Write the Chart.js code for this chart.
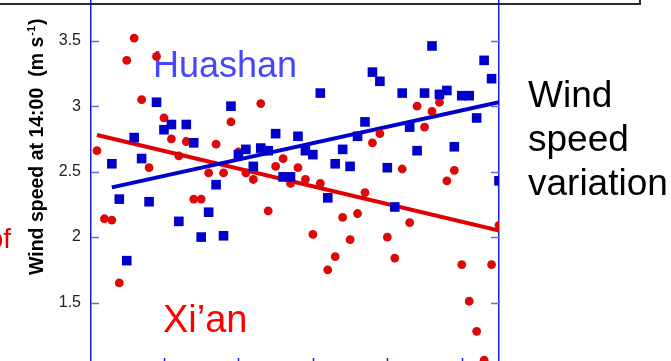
<!DOCTYPE html>
<html>
<head>
<meta charset="utf-8">
<script src="https://cdn.jsdelivr.net/npm/chart.js@4"></script>
<style>
  html, body { margin: 0; padding: 0; background: #fff; overflow: hidden; }
</style>
</head>
<body>
<canvas id="windchart" width="671" height="370"></canvas>
<script>
// data
const xianYears = [1951, 1952, 1953, 1954, 1955, 1956, 1957, 1958, 1959, 1960,
  1961, 1962, 1963, 1964, 1965, 1966, 1967, 1968, 1969, 1970,
  1971, 1972, 1973, 1974, 1975, 1976, 1977, 1978, 1979, 1980,
  1981, 1982, 1983, 1984, 1985, 1986, 1987, 1988, 1989, 1990,
  1991, 1992, 1993, 1994, 1995, 1996, 1997, 1998, 1999, 2000,
  2001, 2002, 2003, 2004, 2005];
const xianSpeed = [2.66, 2.14, 2.13, 1.65, 3.35, 3.52, 3.05, 2.53, 3.38, 2.91,
  2.75, 2.62, 2.73, 2.29, 2.29, 2.49, 2.71, 2.49, 2.88, 2.65,
  2.49, 2.44, 3.02, 2.20, 2.54, 2.60, 2.41, 2.53, 2.44, 2.02,
  2.41, 1.75, 1.85, 2.15, 1.98, 2.18, 2.34, 2.72, 2.79, 2.00,
  1.84, 2.52, 2.11, 3.00, 2.84, 2.96, 3.03, 2.43, 2.51, 1.79,
  1.51, 1.28, 1.06, 1.79, 2.09];

const huashanYears = [1953, 1954, 1955, 1956, 1957, 1958, 1959, 1960,
  1961, 1962, 1963, 1964, 1965, 1966, 1967, 1968, 1969, 1970,
  1971, 1972, 1973, 1974, 1975, 1976, 1977, 1978, 1979, 1980,
  1981, 1982, 1983, 1984, 1985, 1986, 1987, 1988, 1989, 1990,
  1991, 1992, 1993, 1994, 1995, 1996, 1997, 1998, 1999, 2000,
  2001, 2002, 2003, 2004, 2005];
const huashanSpeed = [2.56, 2.29, 1.82, 2.76, 2.60, 2.27, 3.03, 2.82,
  2.86, 2.12, 2.86, 2.72, 2.00, 2.19, 2.40, 2.01, 3.00, 2.63,
  2.67, 2.54, 2.68, 2.66, 2.79, 2.46, 2.46, 2.77, 2.66, 2.63,
  3.10, 2.30, 2.56, 2.67, 2.54, 2.77, 2.88, 3.26, 3.19, 2.53,
  2.23, 3.10, 2.84, 2.66, 3.10, 3.46, 3.09, 3.12, 2.69, 3.08,
  3.08, 2.91, 3.35, 3.21, 2.43];

// linear trend end points
const xianTrendYears = [1951, 2005];
const xianTrend = [2.78, 2.05];
const huashanTrendYears = [1953, 2005];
const huashanTrend = [2.38, 3.03];

const xTickYears = [1960, 1970, 1980, 1990, 2000];

const FONT = '"Liberation Sans", Arial, sans-serif';
const AXIS_BLUE = '#1c1cdc';

function pairs(xs, ys) {
  return xs.map((x, i) => ({ x: x, y: ys[i] }));
}

// no label overhang padding, the plot runs off the slide crop
function fixWidth(w) {
  return s => {
    s.width = w;
    s.paddingTop = 0;
    s.paddingBottom = 0;
    s.paddingLeft = 0;
    s.paddingRight = 0;
  };
}

// inward tick marks + frame line
const tickMarks = {
  id: 'tickMarks',
  afterDraw(chart) {
    const ctx = chart.ctx;
    const a = chart.chartArea;
    const yS = chart.scales.y;
    const xS = chart.scales.x;
    ctx.save();
    ctx.strokeStyle = '#6868ee';
    ctx.lineWidth = 1.5;
    yS.ticks.forEach(t => {
      const py = Math.round(yS.getPixelForValue(t.value)) + 0.5;
      ctx.beginPath();
      ctx.moveTo(a.left, py); ctx.lineTo(a.left + 8, py);
      ctx.moveTo(a.right, py); ctx.lineTo(a.right - 8, py);
      ctx.stroke();
    });
    ctx.strokeStyle = AXIS_BLUE;
    xTickYears.forEach(v => {
      const px = Math.round(xS.getPixelForValue(v)) + 0.5;
      ctx.beginPath();
      ctx.moveTo(px, a.bottom); ctx.lineTo(px, a.bottom - 10);
      ctx.stroke();
    });
    // box edge at the top of the slide
    ctx.strokeStyle = '#2a2a2a';
    ctx.lineWidth = 2;
    ctx.beginPath();
    ctx.moveTo(0, 4); ctx.lineTo(640, 4); ctx.lineTo(640, 0);
    ctx.stroke();
    ctx.restore();
  }
};

const labels = {
  id: 'labels',
  beforeDatasetsDraw(chart) {
    const ctx = chart.ctx;
    ctx.save();
    ctx.textBaseline = 'alphabetic';
    ctx.textAlign = 'left';
    ctx.fillStyle = '#4646ff';
    ctx.font = '36px ' + FONT;
    ctx.fillText('Huashan', 153, 77);
    ctx.fillStyle = '#ff0000';
    ctx.font = '38px ' + FONT;
    ctx.fillText('Xi\u2019an', 163, 332);
    ctx.restore();
  },
  afterDraw(chart) {
    const ctx = chart.ctx;
    ctx.save();
    ctx.textBaseline = 'alphabetic';
    ctx.textAlign = 'left';
    ctx.fillStyle = '#000';
    ctx.font = '37px ' + FONT;
    ctx.fillText('Wind', 528, 107);
    ctx.fillText('speed', 528, 151);
    ctx.fillText('variation', 528, 195);

    ctx.fillStyle = '#e00000';
    ctx.font = '28px ' + FONT;
    ctx.textAlign = 'right';
    ctx.fillText('of', 11, 248);

    // rotated y axis title with superscript
    ctx.translate(43, 275);
    ctx.rotate(-Math.PI / 2);
    ctx.textAlign = 'left';
    ctx.fillStyle = '#000';
    ctx.font = 'bold 19.5px ' + FONT;
    const main = 'Wind speed at 14:00  (m s';
    ctx.fillText(main, 0, 0);
    let w = ctx.measureText(main).width;
    ctx.font = 'bold 11px ' + FONT;
    ctx.fillText('-1', w + 1, -8);
    w += ctx.measureText('-1').width + 1;
    ctx.font = 'bold 19.5px ' + FONT;
    ctx.fillText(')', w + 1, 0);
    ctx.restore();
  }
};

const ctx = document.getElementById('windchart').getContext('2d');

const myChart = new Chart(ctx, {
  type: 'scatter',
  data: {
    datasets: [
      {
        label: 'Huashan',
        data: pairs(huashanYears, huashanSpeed),
        pointStyle: 'rect',
        pointRadius: 6.8,
        pointBorderWidth: 0,
        backgroundColor: '#0000cc',
        order: 1
      },
      {
        label: 'Xi\u2019an',
        data: pairs(xianYears, xianSpeed),
        pointStyle: 'circle',
        pointRadius: 4.4,
        pointBorderWidth: 0,
        backgroundColor: '#dd0808',
        order: 2
      },
      {
        label: 'Huashan trend',
        data: pairs(huashanTrendYears, huashanTrend),
        showLine: true,
        pointRadius: 0,
        borderColor: '#0000cc',
        borderWidth: 4,
        order: 3
      },
      {
        label: 'Xi\u2019an trend',
        data: pairs(xianTrendYears, xianTrend),
        showLine: true,
        pointRadius: 0,
        borderColor: '#e00000',
        borderWidth: 4,
        order: 4
      }
    ]
  },
  options: {
    responsive: false,
    animation: false,
    layout: { autoPadding: false, padding: { top: 0, bottom: 2, left: 0, right: 0 } },
    plugins: { legend: { display: false }, tooltip: { enabled: false } },
    scales: {
      x: {
        type: 'linear',
        min: 1950.2,
        max: 2005,
        display: false
      },
      y: {
        position: 'left',
        min: 1.0,
        max: 3.811,
        afterFit: fixWidth(91),
        grid: { drawOnChartArea: false, drawTicks: false },
        border: { color: AXIS_BLUE, width: 1.5 },
        ticks: {
          stepSize: 0.5,
          includeBounds: false,
          padding: 10,
          color: '#222',
          font: { family: FONT, size: 16 },
          callback: v => (v < 1.2 ? '' : String(v))
        }
      },
      y2: {
        position: 'right',
        min: 1.0,
        max: 3.811,
        afterFit: fixWidth(172),
        grid: { drawOnChartArea: false, drawTicks: false },
        border: { color: AXIS_BLUE, width: 1.5 },
        ticks: { display: false }
      }
    }
  },
  plugins: [labels, tickMarks]
});
</script>
</body>
</html>
